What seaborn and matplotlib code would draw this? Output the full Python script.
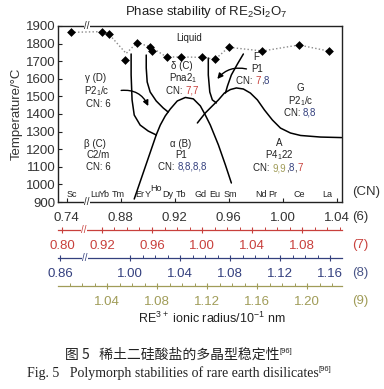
import numpy as np
import matplotlib
matplotlib.use("Agg")
import matplotlib.pyplot as plt
import matplotlib.transforms as mtransforms
import seaborn as sns

# ---------------- data ----------------
# melting points (RE3+ radius for CN 6, 0.1 nm / temperature, C); Sc sits left of the axis break
melt_r = [0.743, 0.866, 0.871, 0.883, 0.892, 0.902, 0.903, 0.914, 0.925, 0.940, 0.950, 0.960, 0.985, 1.012, 1.034]
melt_t = [1864, 1868, 1856, 1707, 1805, 1782, 1758, 1724, 1724, 1722, 1711, 1779, 1758, 1792, 1758]

# dotted liquidus
liq_r = [0.743, 0.866, 0.871, 0.884, 0.892, 0.902, 0.914, 0.925, 0.940, 0.950, 0.960, 0.985, 1.012, 1.034]
liq_t = [1864, 1868, 1856, 1744, 1805, 1782, 1724, 1724, 1722, 1711, 1779, 1758, 1792, 1758]

# phase boundaries
gb_r = [0.8877, 0.8877, 0.8884, 0.8900, 0.8944, 0.9004, 0.9063]          # gamma | beta
gb_t = [1741, 1622, 1480, 1394, 1337, 1303, 1281]
ba_r = [0.9063, 0.8900]                                                  # beta | alpha
ba_t = [1281, 917]
gd_r = [0.8989, 0.8989, 0.8996, 0.9018, 0.9063, 0.9115, 0.9152]          # gamma | delta
gd_t = [1735, 1661, 1582, 1525, 1474, 1434, 1411]
dome_r = [0.9063, 0.9093, 0.9130, 0.9167, 0.9219, 0.9279, 0.9338, 0.9390,
          0.9427, 0.9464, 0.9524, 0.9576, 0.9620]                        # alpha | delta, alpha | A
dome_t = [1281, 1337, 1389, 1428, 1474, 1494, 1486, 1446, 1394, 1337, 1224, 1110, 1008]
df_r = [0.9449, 0.9449, 0.9460, 0.9479, 0.9509]                          # delta | F
df_t = [1718, 1622, 1525, 1480, 1463]
ga_r = [0.9368, 0.9427, 0.9479, 0.9524, 0.9568, 0.9613, 0.9657, 0.9709, 0.9761,
        0.9813, 0.9865, 0.9924, 0.9984, 1.0058, 1.0133, 1.0281, 1.0437]   # G | A
ga_t = [1349, 1406, 1446, 1480, 1519, 1539, 1548, 1542, 1519, 1480, 1423, 1366,
        1320, 1292, 1278, 1269, 1266]
fg_r = [0.9709, 0.9665, 0.9620, 0.9591, 0.9576]                          # F | G
fg_t = [1741, 1684, 1622, 1559, 1519]

# rare earth labels along the bottom
elements = ["Sc", "Lu", "Yb", "Tm", "Er", "Y", "Ho", "Dy", "Tb", "Gd", "Eu", "Sm", "Nd", "Pr", "Ce", "La"]
element_r = [0.744, 0.861, 0.868, 0.878, 0.894, 0.900, 0.906, 0.915, 0.925, 0.939,
             0.950, 0.961, 0.984, 0.993, 1.012, 1.033]

# radius scales for the four coordination numbers
cn6_ticks = [0.74, 0.88, 0.92, 0.96, 1.00, 1.04]
cn7_ticks = [0.80, 0.92, 0.96, 1.00, 1.04, 1.08]
cn8_ticks = [0.86, 1.00, 1.04, 1.08, 1.12, 1.16]
cn9_ticks = [1.04, 1.08, 1.12, 1.16, 1.20]

RED = "#c8403c"
BLUE = "#34407e"
OLIVE = "#a09c58"
INK = "#222222"

W, H = 384, 389


def brk(r, shift=0.10, lim=0.8):
    # values left of the axis break are moved next to it
    r = np.asarray(r, dtype=float)
    return np.where(r < lim, r + shift, r)


def fx(px):
    return px / W


def fy(py):
    return 1 - py / H


def break_mark(a, x, ys, color):
    tr = mtransforms.blended_transform_factory(a.transData, a.transAxes)
    for y in ys:
        a.text(x, y, "//", transform=tr, ha="center", va="center", fontsize=7,
               color=color, clip_on=False, zorder=5,
               bbox=dict(fc="white", ec="none", pad=0.2))


def colored(a, x, y, parts, size=7):
    t = a.text(x, y, parts[0][0], color=parts[0][1], fontsize=size, ha="left", va="center")
    for s, c in parts[1:]:
        t = a.annotate(s, xy=(1, 0), xycoords=t, color=c, fontsize=size, ha="left", va="bottom")


sns.set_style("ticks")
plt.rcParams["font.family"] = ["Liberation Sans", "DejaVu Sans"]
plt.rcParams["mathtext.fontset"] = "custom"
plt.rcParams["mathtext.rm"] = "Liberation Sans"
plt.rcParams["mathtext.default"] = "regular"

fig = plt.figure(figsize=(W / 100, H / 100), dpi=100)
ax = fig.add_axes([fx(58), fy(202), fx(284), 176 / H])

# boundaries
for r, t in [(gb_r, gb_t), (ba_r, ba_t), (gd_r, gd_t), (dome_r, dome_t),
             (df_r, df_t), (ga_r, ga_t), (fg_r, fg_t)]:
    sns.lineplot(x=r, y=t, sort=False, estimator=None, color="black", lw=1.1, ax=ax)

sns.lineplot(x=brk(liq_r), y=liq_t, sort=False, estimator=None, color="#8a8a8a",
             lw=1.0, linestyle=(0, (1, 1.6)), ax=ax)
sns.scatterplot(x=brk(melt_r), y=melt_t, marker="D", s=20, color="black",
                edgecolor="black", linewidth=0, zorder=4, ax=ax)

# arrows
ax.annotate("", xy=(0.9004, 1445), xytext=(0.8803, 1534),
            arrowprops=dict(arrowstyle="-|>", color="black", lw=1.0, mutation_scale=8,
                            shrinkA=0, shrinkB=0, connectionstyle="arc3,rad=-0.35"))
ax.annotate("", xy=(0.9516, 1599), xytext=(0.9732, 1656),
            arrowprops=dict(arrowstyle="-|>", color="black", lw=1.0, mutation_scale=8,
                            shrinkA=0, shrinkB=0, connectionstyle="arc3,rad=0.3"))

ax.set_xlim(0.8335, 1.044)
ax.set_ylim(900, 1900)
ax.set_xticks(brk(cn6_ticks), [f"{v:.2f}" for v in cn6_ticks])
ax.set_yticks(range(900, 2000, 100))
ax.tick_params(axis="both", direction="in", length=3, color=INK, labelcolor="#333333",
               labelsize=9.5, width=0.8, bottom=True, left=True)
ax.tick_params(axis="x", pad=7)
ax.tick_params(axis="y", pad=2)
for s in ax.spines.values():
    s.set_visible(True)
    s.set_color(INK)
    s.set_linewidth(1.0)
ax.set_ylabel("Temperature/\u00b0C", fontsize=9.5, color="#333333", labelpad=2)
break_mark(ax, 0.855, [0, 1], INK)

# region labels
kw = dict(fontsize=7, color=INK, ha="center", va="center")
ax.text(0.9308, 1832, "Liquid", **kw)
ax.text(0.9249, 1670, "\u03b4 (C)", **kw)
ax.text(0.9264, 1603, "Pna2$_1$", **kw)
colored(ax, 0.9137, 1531, [("CN: ", INK), ("7,7", RED)])
ax.text(0.8617, 1605, "\u03b3 (D)", **kw)
ax.text(0.8625, 1531, "P2$_1$/c", **kw)
ax.text(0.8632, 1457, "CN: 6", **kw)
ax.text(0.8610, 1230, "\u03b2 (C)", **kw)
ax.text(0.8632, 1167, "C2/m", **kw)
ax.text(0.8632, 1099, "CN: 6", **kw)
ax.text(0.9241, 1230, "\u03b1 (B)", **kw)
ax.text(0.9249, 1167, "P1", **kw)
colored(ax, 0.9078, 1099, [("CN: ", INK), ("8,8,8,8", BLUE)])
ax.text(0.9806, 1724, "F", **kw)
ax.text(0.9813, 1656, "P1", **kw)
colored(ax, 0.9657, 1588, [("CN: ", INK), ("7", RED), (",", INK), ("8", BLUE)])
ax.text(1.0133, 1548, "G", **kw)
ax.text(1.0133, 1474, "P2$_1$/c", **kw)
colored(ax, 1.0007, 1406, [("CN: ", INK), ("8,8", BLUE)])
ax.text(0.9977, 1235, "A", **kw)
ax.text(0.9977, 1167, "P4$_1$22", **kw)
colored(ax, 0.9784, 1093, [("CN: ", INK), ("9,9", OLIVE), (",", INK), ("8", BLUE),
                           (",", INK), ("7", RED)])

for name, r in zip(elements, brk(element_r)):
    ax.text(r, 974 if name == "Ho" else 945, name, fontsize=6.5, color=INK,
            ha="center", va="center")

# extra radius scales for CN 7, 8, 9
scales = [
    (230, (0.8848, 1.112), cn7_ticks, 0.088, RED, RED, 0.9056, 0.92),
    (258, (0.9424, 1.1696), cn8_ticks, 0.084, BLUE, BLUE, 0.964, 1.00),
    (286, (1.0008, 1.228), cn9_ticks, 0.0, OLIVE, OLIVE, None, 1.01),
]
for py, lim, ticks, shift, lc, tc, bx, mstart in scales:
    a = fig.add_axes([fx(58), fy(py), fx(284), 0.0005])
    a.patch.set_visible(False)
    a.set_xlim(lim)
    a.set_ylim(0, 1)
    a.set_yticks([])
    for s in ["top", "left", "right"]:
        a.spines[s].set_visible(False)
    a.spines["bottom"].set_color(lc)
    a.spines["bottom"].set_linewidth(0.9)
    a.set_xticks(brk(ticks, shift=shift, lim=0.9 if shift else 0), [f"{v:.2f}" for v in ticks])
    a.set_xticks(np.arange(mstart, lim[1], 0.01), minor=True)
    a.tick_params(axis="x", which="major", direction="inout", length=5, color=lc,
                  labelcolor=tc, labelsize=9.5, pad=5, width=0.8, bottom=True)
    a.tick_params(axis="x", which="minor", direction="in", length=2.5, color=lc, width=0.7,
                  bottom=True)
    if bx is not None:
        break_mark(a, bx, [0], lc)

fig.text(fx(352), fy(192), "(CN)", fontsize=9.5, color="#333333", va="center")
for py, lab, c in [(217, "(6)", "#333333"), (245, "(7)", RED), (273, "(8)", "#4a5688"),
                   (301, "(9)", OLIVE)]:
    fig.text(fx(352), fy(py), lab, fontsize=9.5, color=c, va="center")

fig.text(fx(206), fy(12), "Phase stability of RE$_2$Si$_2$O$_7$", fontsize=9.5,
         color="#222222", ha="center", va="center")
fig.text(fx(212), fy(318), "RE$^{3+}$ ionic radius/10$^{-1}$ nm", fontsize=9,
         color="#222222", ha="center", va="center")

# caption
c1 = fig.text(fx(65), fy(355), "\u56fe 5   \u7a00\u571f\u4e8c\u7845\u9178\u76d0\u7684\u591a\u6676\u578b\u7a33\u5b9a\u6027",
              fontsize=10, family=["Noto Sans CJK SC", "DejaVu Sans"], color="#222222", va="center")
plt.annotate("[96]", xy=(1, 1), xycoords=c1, fontsize=5.5, color="#222222", ha="left", va="top",
             annotation_clip=False)
c2 = fig.text(fx(27), fy(373), "Fig. 5   Polymorph stabilities of rare earth disilicates",
              fontsize=10, family=["Liberation Serif"], color="#222222", va="center")
plt.annotate("[96]", xy=(1, 1), xycoords=c2, fontsize=5.5, color="#222222", ha="left", va="top",
             annotation_clip=False)

fig.savefig("out.png", dpi=100)
plt.close(fig)
